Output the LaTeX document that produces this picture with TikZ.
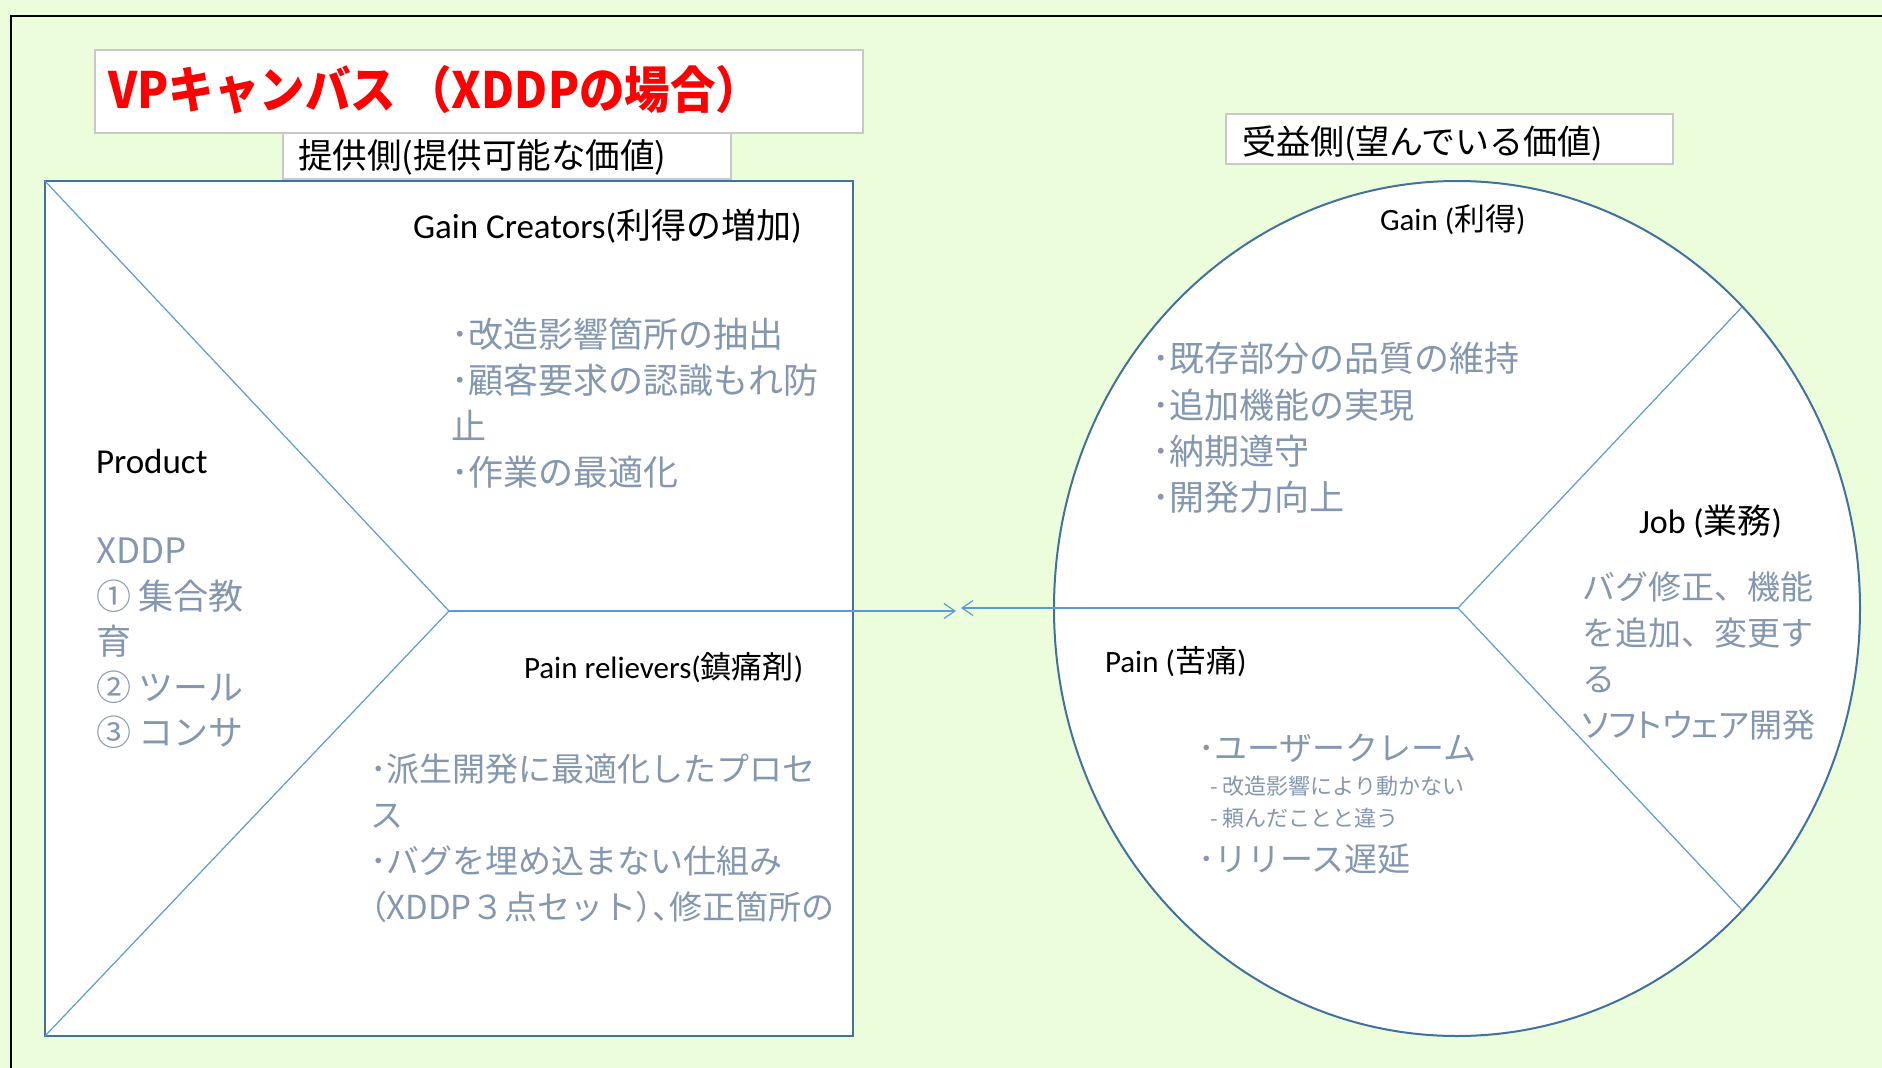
\documentclass[tikz,border=0pt]{standalone}
\usepackage{fontspec}
\usepackage{graphicx}
\setmainfont{Carlito}
\newfontfamily\jp{Noto Sans CJK JP}
\newfontfamily\jpp{Noto Sans CJK JP}[RawFeature=+palt]
\usetikzlibrary{shapes.geometric,arrows.meta}
\definecolor{bg}{RGB}{236,253,220}
\definecolor{frameblue}{RGB}{65,113,156}
\definecolor{lineblue}{RGB}{91,155,213}
\definecolor{txtgray}{RGB}{132,151,176}
\definecolor{boxgray}{RGB}{200,200,200}
\newcommand{\fsz}[2]{\fontsize{#1}{#2}\selectfont}
\begin{document}
\begin{tikzpicture}[x=1pt,y=-1pt,
  every node/.style={inner sep=0pt,outer sep=0pt},
  hdrbox/.style={draw=boxgray,line width=1.3pt,fill=white,rectangle},
  panel/.style={draw=frameblue,line width=2pt,fill=white},
  divider/.style={draw=lineblue,line width=1.2pt},
  link/.style={draw=lineblue,line width=1.2pt,-{Straight Barb[length=11pt,width=15pt]}},
  head/.style={anchor=west,text=black},
  body/.style={anchor=north west,align=left,text=txtgray}
]
% background and frame
\fill[bg] (0,0) rectangle (1882,1068);
\useasboundingbox (0,0) rectangle (1882,1068);
\draw[black,line width=2pt] (11,1068) -- (11,16) -- (1882,16);

% title
\node[hdrbox,minimum width=768,minimum height=83] (titlebox) at (479,91.5) {};
\node[anchor=west,text=red,font=\jp\bfseries\fsz{50}{58}] (title) at (108,90) {\scalebox{0.91}[1]{VPキャンバス （XDDPの場合）}};

% provider header
\node[hdrbox,minimum width=448,minimum height=46] (provbox) at (507,156) {};
\node[anchor=west,font=\jp\fsz{34.5}{40}] (provtxt) at (298,157) {提供側(提供可能な価値)};

% beneficiary header
\node[hdrbox,minimum width=447,minimum height=50] (benebox) at (1449.5,139) {};
\node[anchor=west,font=\jp\fsz{34}{40}] (benetxt) at (1242,143) {受益側(望んでいる価値)};

% left panel
\node[panel,rectangle,minimum width=808,minimum height=855] (vp) at (449,608.5) {};
\coordinate (apex) at (449,611);
\draw[divider] (vp.north west) -- (apex) -- (vp.south west);

% right ellipse
\node[panel,ellipse,minimum width=806,minimum height=855] (cust) at (1457,608.5) {};
\coordinate (jc) at (1458,608);
\coordinate (jtop) at (1742,307);
\coordinate (jbot) at (1742,910);
\draw[divider] (jtop) -- (jc) -- (jbot);

% connectors
\coordinate (tipL) at (956,611);
\coordinate (tipR) at (961,608);
\draw[link] (apex) -- (tipL);
\draw[link] (jc) -- (tipR);

% left panel texts
\node[head,font=\fsz{35}{40}] (gainc) at (413,226) {Gain Creators({\jp 利得の増加})};
\node[body,font=\jp\fsz{35}{46}] (gainclist) at (451,317.5) {･改造影響箇所の抽出\\･顧客要求の認識もれ防\\止\\･作業の最適化};
\node[head,font=\fsz{35}{40}] (product) at (96,461) {Product};
\node[body,font=\jp\fsz{35}{45.5}] (prodlist) at (96,538) {XDDP\\① 集合教\\育\\② ツール\\③ コンサ};
\node[head,font=\fsz{31}{36}] (painr) at (524,668) {Pain relievers({\jp 鎮痛剤})};
\node[body,font=\jp\fsz{33}{46}] (painrlist) at (370,753.5) {･派生開発に最適化したプロセ\\ス\\･バグを埋め込まない仕組み\\{\jpp （}XDDP３点セット{\jpp ）、}修正箇所の};

% right ellipse texts
\node[head,font=\fsz{31}{36}] (gain) at (1380,220) {Gain ({\jp 利得})};
\node[body,font=\jp\fsz{35}{46.3}] (gainlist) at (1152,342.5) {･既存部分の品質の維持\\･追加機能の実現\\･納期遵守\\･開発力向上};
\node[head,font=\fsz{34}{40}] (job) at (1639,522) {Job ({\jp 業務})};
\node[body,font=\jp\fsz{33}{46}] (joblist) at (1582,571.5) {バグ修正、機能\\を追加、変更す\\る\\{\jpp ソフトウェア}開発};
\node[head,font=\fsz{31}{36}] (pain) at (1105,662) {Pain ({\jp 苦痛})};
\node[anchor=west,text=txtgray,font=\jp\fsz{33}{40}] (pain1) at (1198,748) {･ユーザークレーム};
\node[anchor=west,text=txtgray,font=\jp\fsz{22}{26}] (pain1a) at (1210,786) {- 改造影響により動かない};
\node[anchor=west,text=txtgray,font=\jp\fsz{22}{26}] (pain1b) at (1210,818) {- 頼んだことと違う};
\node[anchor=west,text=txtgray,font=\jp\fsz{33}{40}] (pain2) at (1198,859) {･リリース遅延};
\end{tikzpicture}
\end{document}
